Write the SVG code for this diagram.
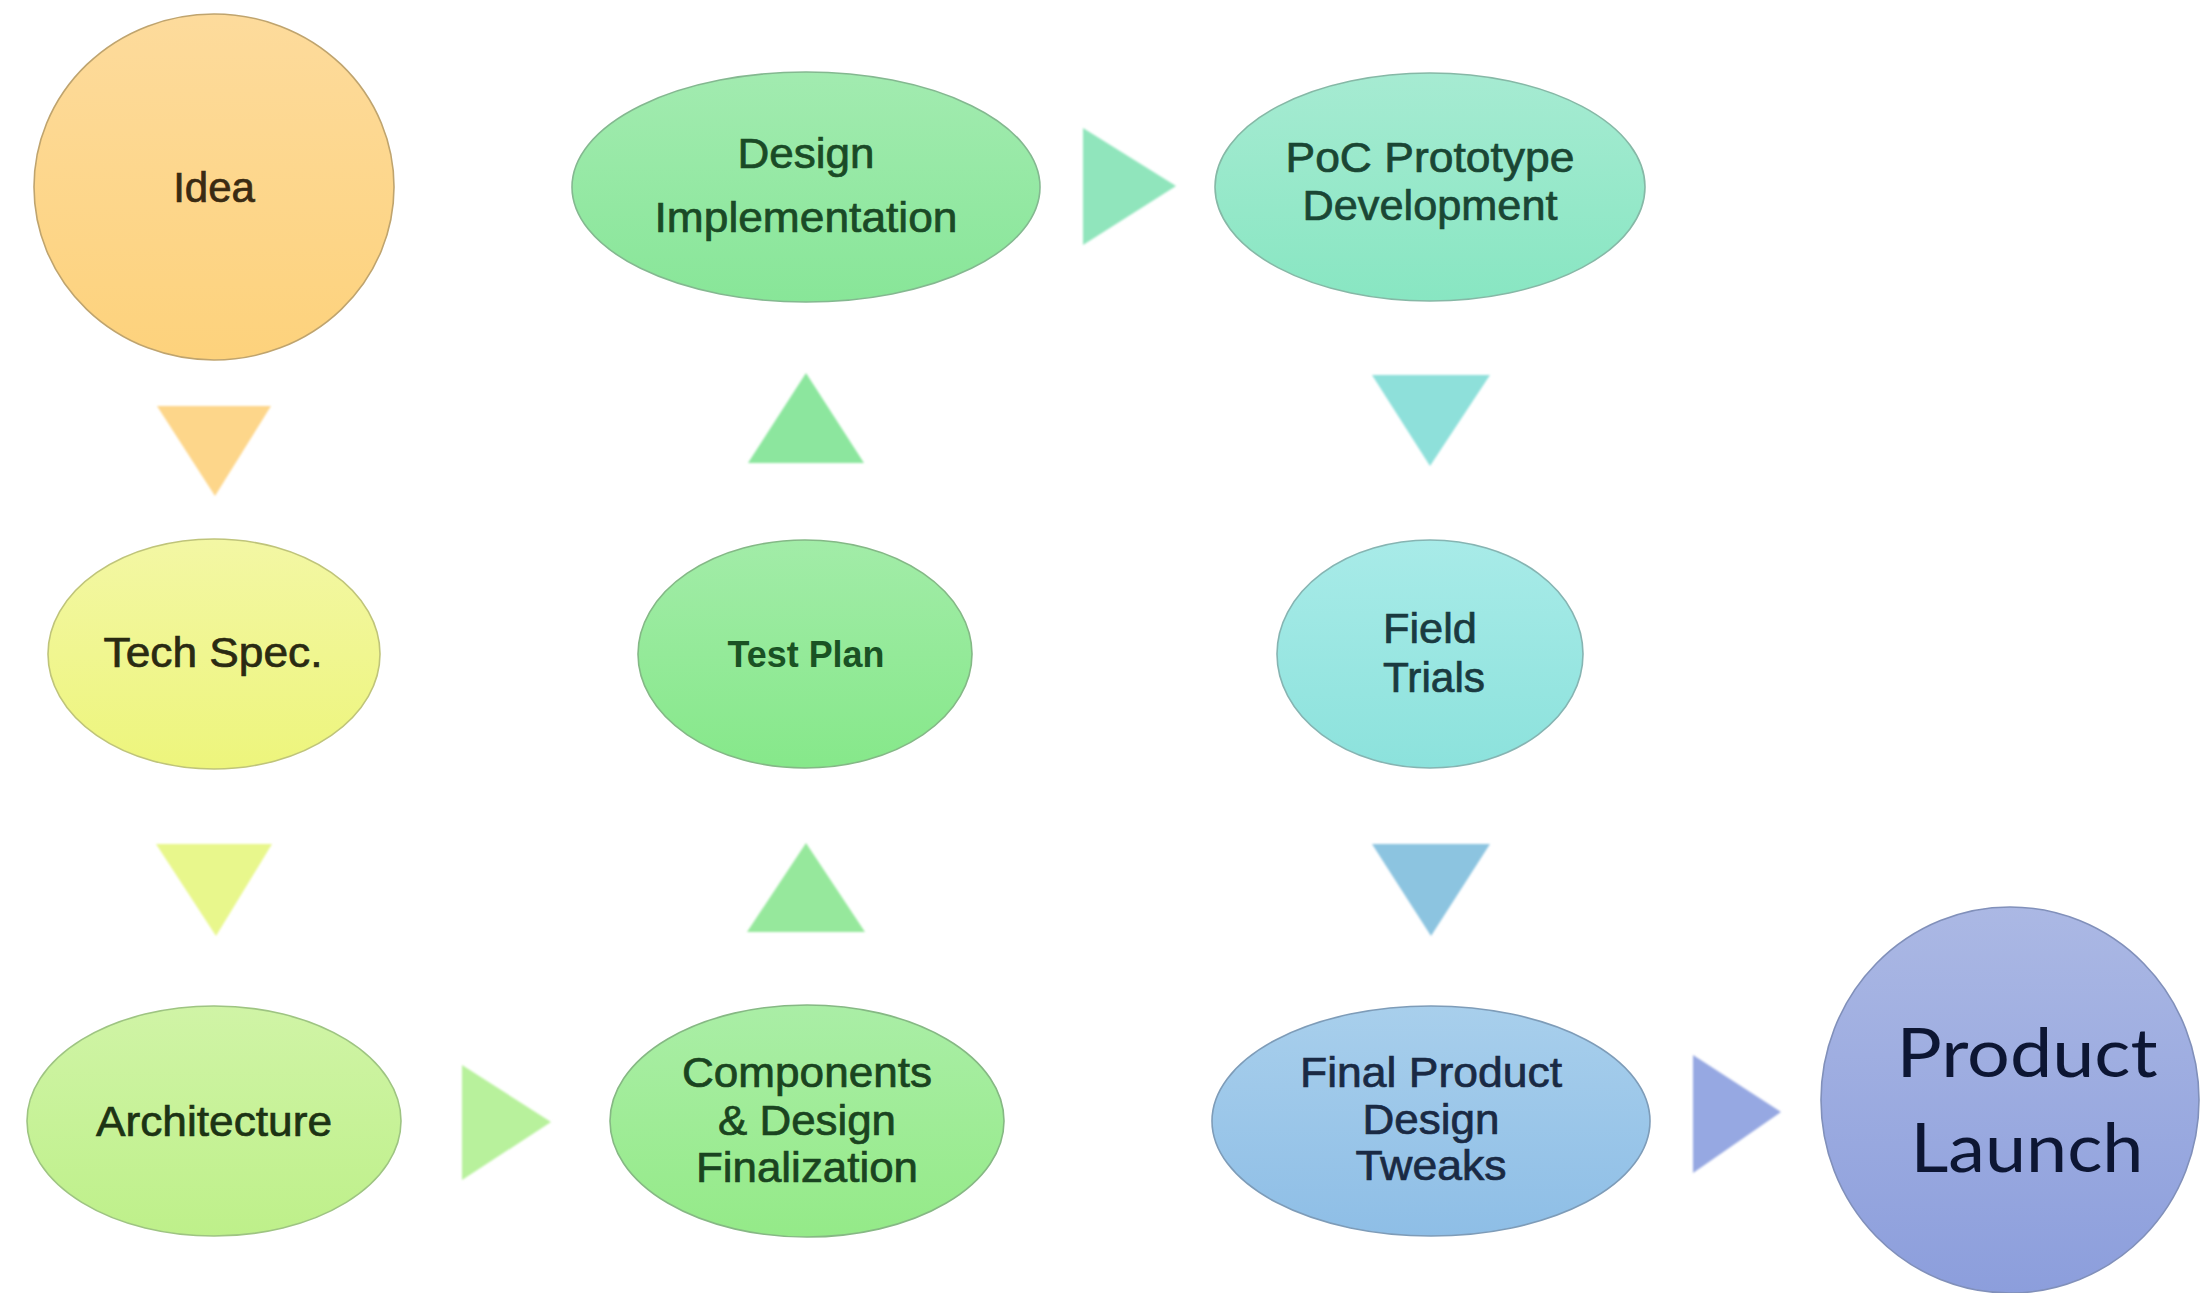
<svg xmlns="http://www.w3.org/2000/svg" width="2201" height="1293" viewBox="0 0 2201 1293">
<defs>
<linearGradient id="gIdea" x1="0" y1="0" x2="0" y2="1"><stop offset="0" stop-color="#FDDB9C"/><stop offset="1" stop-color="#FDD27C"/></linearGradient>
<linearGradient id="gTech" x1="0" y1="0" x2="0" y2="1"><stop offset="0" stop-color="#F3F7A4"/><stop offset="1" stop-color="#EDF57C"/></linearGradient>
<linearGradient id="gArch" x1="0" y1="0" x2="0" y2="1"><stop offset="0" stop-color="#D0F4A6"/><stop offset="1" stop-color="#BEF08A"/></linearGradient>
<linearGradient id="gComp" x1="0" y1="0" x2="0" y2="1"><stop offset="0" stop-color="#AAEEA6"/><stop offset="1" stop-color="#94EA88"/></linearGradient>
<linearGradient id="gTest" x1="0" y1="0" x2="0" y2="1"><stop offset="0" stop-color="#A2ECA8"/><stop offset="1" stop-color="#86E88A"/></linearGradient>
<linearGradient id="gDes" x1="0" y1="0" x2="0" y2="1"><stop offset="0" stop-color="#A2EBB0"/><stop offset="1" stop-color="#88E698"/></linearGradient>
<linearGradient id="gPoc" x1="0" y1="0" x2="0" y2="1"><stop offset="0" stop-color="#A6EBD2"/><stop offset="1" stop-color="#88E6C2"/></linearGradient>
<linearGradient id="gField" x1="0" y1="0" x2="0" y2="1"><stop offset="0" stop-color="#A8EBE8"/><stop offset="1" stop-color="#8CE2DC"/></linearGradient>
<linearGradient id="gFinal" x1="0" y1="0" x2="0" y2="1"><stop offset="0" stop-color="#A8CFEC"/><stop offset="1" stop-color="#8EBEE6"/></linearGradient>
<linearGradient id="gLaunch" x1="0" y1="0" x2="0" y2="1"><stop offset="0" stop-color="#ABB8E4"/><stop offset="1" stop-color="#8C9EDC"/></linearGradient>
<filter id="soft" x="-10%" y="-10%" width="120%" height="120%"><feGaussianBlur stdDeviation="1.2"/></filter>
</defs>
<style>
.node { stroke-width: 1.6; }
.lbl { font-family: "Liberation Sans", Arial, sans-serif; font-size: 42px; text-anchor: middle; stroke-width: 0.7; }
.tp { font-family: "Liberation Sans", Arial, sans-serif; font-size: 36px; font-weight: bold; text-anchor: middle; }
.big { font-family: Lato, "Open Sans", sans-serif; font-size: 68px; text-anchor: middle; fill: #0D1633; }
.arr { filter: url(#soft); }
</style>
<rect width="2201" height="1293" fill="#FFFFFF"/>

<g id="connectors">
  <polygon class="arr" points="157,406 271,406 215,496" fill="#FDD68A"/>
  <polygon class="arr" points="156,844 272,844 216,936" fill="#E8F78C"/>
  <polygon class="arr" points="462,1065 462,1180 551,1122" fill="#B8F19C"/>
  <polygon class="arr" points="806,843 865,932 747,932" fill="#96E89C"/>
  <polygon class="arr" points="806,373 864,463 748,463" fill="#8CE69E"/>
  <polygon class="arr" points="1083,128 1083,245 1176,186" fill="#90E5BC"/>
  <polygon class="arr" points="1372,375 1490,375 1430,466" fill="#8EE0DA"/>
  <polygon class="arr" points="1372,844 1490,844 1431,936" fill="#8CC4E0"/>
  <polygon class="arr" points="1693,1055 1693,1173 1781,1112" fill="#96A8E2"/>
</g>

<g id="idea">
  <ellipse class="node" cx="214" cy="187" rx="180" ry="173" fill="url(#gIdea)" stroke="#BFA46E"/>
  <text class="lbl" x="214" y="202" font-size="44" fill="#3A2A12" stroke="#3A2A12">Idea</text>
</g>
<g id="tech-spec">
  <ellipse class="node" cx="214" cy="654" rx="166" ry="115" fill="url(#gTech)" stroke="#BFC47A"/>
  <text class="lbl" x="213" y="667" fill="#2A2A12" stroke="#2A2A12" textLength="219" lengthAdjust="spacingAndGlyphs">Tech Spec.</text>
</g>
<g id="architecture">
  <ellipse class="node" cx="214" cy="1121" rx="187" ry="115" fill="url(#gArch)" stroke="#9EC482"/>
  <text class="lbl" x="214" y="1136" fill="#1C3314" stroke="#1C3314" textLength="236" lengthAdjust="spacingAndGlyphs">Architecture</text>
</g>
<g id="components">
  <ellipse class="node" cx="807" cy="1121" rx="197" ry="116" fill="url(#gComp)" stroke="#86B884"/>
  <text class="lbl" x="807" y="1087" fill="#1A4420" stroke="#1A4420" textLength="250" lengthAdjust="spacingAndGlyphs">Components</text>
  <text class="lbl" x="807" y="1135" fill="#1A4420" stroke="#1A4420" textLength="178" lengthAdjust="spacingAndGlyphs">&amp; Design</text>
  <text class="lbl" x="807" y="1182" fill="#1A4420" stroke="#1A4420" textLength="222" lengthAdjust="spacingAndGlyphs">Finalization</text>
</g>
<g id="test-plan">
  <ellipse class="node" cx="805" cy="654" rx="167" ry="114" fill="url(#gTest)" stroke="#84B886"/>
  <text class="tp" x="806" y="667" fill="#1A5224" textLength="157" lengthAdjust="spacingAndGlyphs">Test Plan</text>
</g>
<g id="design-implementation">
  <ellipse class="node" cx="806" cy="187" rx="234" ry="115" fill="url(#gDes)" stroke="#84B890"/>
  <text class="lbl" x="806" y="168" fill="#1A4A26" stroke="#1A4A26" textLength="137" lengthAdjust="spacingAndGlyphs">Design</text>
  <text class="lbl" x="806" y="232" fill="#1A4A26" stroke="#1A4A26" textLength="303" lengthAdjust="spacingAndGlyphs">Implementation</text>
</g>
<g id="poc-prototype">
  <ellipse class="node" cx="1430" cy="187" rx="215" ry="114" fill="url(#gPoc)" stroke="#86B8A6"/>
  <text class="lbl" x="1430" y="172" fill="#1A4634" stroke="#1A4634" textLength="289" lengthAdjust="spacingAndGlyphs">PoC Prototype</text>
  <text class="lbl" x="1430" y="220" fill="#1A4634" stroke="#1A4634" textLength="255" lengthAdjust="spacingAndGlyphs">Development</text>
</g>
<g id="field-trials">
  <ellipse class="node" cx="1430" cy="654" rx="153" ry="114" fill="url(#gField)" stroke="#86B4B2"/>
  <text class="lbl" x="1430" y="643" fill="#1A3A40" stroke="#1A3A40" textLength="94" lengthAdjust="spacingAndGlyphs">Field</text>
  <text class="lbl" x="1434" y="692" fill="#1A3A40" stroke="#1A3A40" textLength="102" lengthAdjust="spacingAndGlyphs">Trials</text>
</g>
<g id="final-product">
  <ellipse class="node" cx="1431" cy="1121" rx="219" ry="115" fill="url(#gFinal)" stroke="#7E9CB8"/>
  <text class="lbl" x="1431" y="1087" fill="#1A2A44" stroke="#1A2A44" textLength="262" lengthAdjust="spacingAndGlyphs">Final Product</text>
  <text class="lbl" x="1431" y="1134" fill="#1A2A44" stroke="#1A2A44" textLength="137" lengthAdjust="spacingAndGlyphs">Design</text>
  <text class="lbl" x="1431" y="1180" fill="#1A2A44" stroke="#1A2A44" textLength="151" lengthAdjust="spacingAndGlyphs">Tweaks</text>
</g>
<g id="product-launch">
  <ellipse class="node" cx="2010" cy="1100" rx="189" ry="193" fill="url(#gLaunch)" stroke="#8190BA"/>
  <text class="big" x="2027" y="1077" textLength="261" lengthAdjust="spacingAndGlyphs">Product</text>
  <text class="big" x="2027" y="1172" textLength="233" lengthAdjust="spacingAndGlyphs">Launch</text>
</g>
</svg>
